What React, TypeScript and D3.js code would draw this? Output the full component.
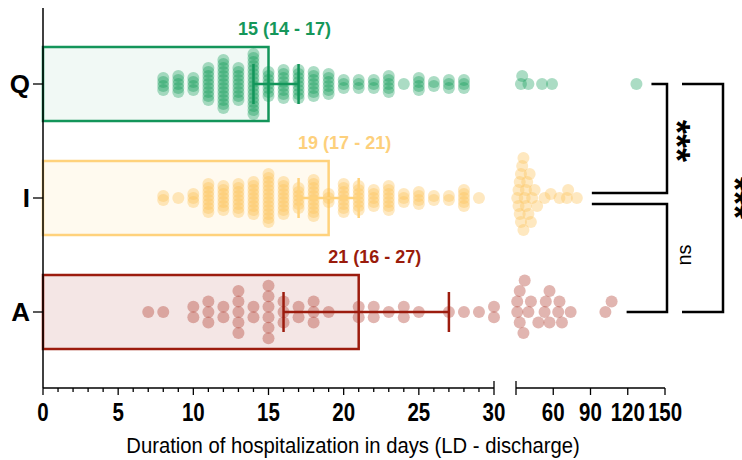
import * as d3 from "d3";

// categories top -> bottom
const categories = ["Q", "I", "A"];

// stays of 7..30 days, drawn as counts per whole day
const days = [7, 8, 9, 10, 11, 12, 13, 14, 15, 16, 17, 18, 19, 20, 21, 22, 23, 24, 25, 26, 27, 28, 29, 30];
const qCounts = [0, 4, 5, 4, 9, 13, 9, 16, 7, 8, 8, 7, 6, 3, 3, 3, 5, 1, 4, 2, 3, 3, 0, 0];
const iCounts = [0, 2, 1, 3, 8, 7, 8, 9, 13, 9, 6, 10, 3, 8, 7, 5, 7, 3, 4, 2, 2, 5, 1, 0];
const aCounts = [1, 1, 0, 2, 3, 2, 5, 2, 6, 3, 2, 3, 1, 0, 2, 2, 1, 2, 1, 0, 1, 1, 1, 2];

// stays longer than 30 days
const qLong = [34, 35, 40, 51, 59, 127];
const iLong = [31, 32, 32, 33, 33, 34, 34, 35, 36, 36, 37, 38, 38, 39, 40, 41, 42, 43, 45, 47, 53, 58, 65, 71, 72, 79];
const aLong = [31, 31, 33, 33, 36, 37, 40, 42, 48, 53, 54, 57, 57, 64, 65, 67, 74, 102, 107];

// median and its interval
const medians = [15, 19, 21];
const lows = [14, 17, 16];
const highs = [17, 21, 27];

const ticksLow = [0, 5, 10, 15, 20, 25, 30];
const ticksHigh = [60, 90, 120, 150];

const comparisons: [string, string, string][] = [
  ["Q", "I", "***"],
  ["I", "A", "ns"],
  ["Q", "A", "***"],
];

const strokes = ["#13955a", "#ffd27c", "#9c1c0e"];
const dotFills = ["#0f9a57", "#fcc35a", "#a82a1c"];
const dotOpacity = [0.35, 0.38, 0.35];
const labelColors = ["#15975a", "#fdd07c", "#9a1b0b"];
const barOpacity = [0.06, 0.12, 0.11];

const x1 = d3.scaleLinear().domain([0, 30]).range([43, 494]);
const x2 = d3.scaleLinear().domain([30, 150]).range([516, 665]);
const y = d3.scalePoint().domain(categories).range([84, 312]);
const barH = 74;
const r = 6;
const axisY = 388;

type Pt = { x: number; y: number };

function layout(counts: number[], long: number[], cy: number, step: number, minDist: number): Pt[] {
  const pts: Pt[] = [];
  counts.forEach((n, i) => {
    for (let k = 0; k < n; k++) {
      pts.push({ x: x1(days[i]), y: cy + (k - (n - 1) / 2) * step });
    }
  });
  const placed: Pt[] = [];
  [...long].sort((a, b) => a - b).forEach((v) => {
    const px = x2(v);
    for (let j = 0; j < 100; j++) {
      const k = j === 0 ? 0 : j % 2 ? -(j + 1) / 2 : j / 2;
      const py = cy + k * step;
      if (placed.every((p) => Math.hypot(p.x - px, p.y - py) >= minDist)) {
        placed.push({ x: px, y: py });
        break;
      }
    }
  });
  return pts.concat(placed);
}

const groups = [
  layout(qCounts, qLong, y("Q")!, 4, 6),
  layout(iCounts, iLong, y("I")!, 4, 7),
  layout(aCounts, aLong, y("A")!, 10.5, 10.5),
];
const longs = [qLong, iLong, aLong];

const sans = "'Liberation Sans', Arial, Helvetica, sans-serif";

export default function App() {
  const armStart = (c: string) => {
    const i = categories.indexOf(c);
    return x2(d3.max(longs[i])!) + 15;
  };
  const innerX = 667;
  const outerX = 723;

  return (
    <div style={{ position: "absolute", left: 0, top: 0 }}>
      <svg width={742} height={460} style={{ display: "block", background: "#fff" }}>
        {categories.map((c, i) => {
          const cy = y(c)!;
          return (
            <g key={c}>
              <rect
                x={x1(0)}
                y={cy - barH / 2}
                width={x1(medians[i]) - x1(0)}
                height={barH}
                fill={strokes[i]}
                fillOpacity={barOpacity[i]}
              />
              <rect
                x={x1(0)}
                y={cy - barH / 2}
                width={x1(medians[i]) - x1(0)}
                height={barH}
                fill="none"
                stroke={strokes[i]}
                strokeWidth={2.5}
              />
              {groups[i].map((p, k) => (
                <circle key={k} cx={p.x} cy={p.y} r={r} fill={dotFills[i]} fillOpacity={dotOpacity[i]} />
              ))}
              <g stroke={strokes[i]} strokeWidth={2.5}>
                <line x1={x1(lows[i])} x2={x1(highs[i])} y1={cy} y2={cy} />
                <line x1={x1(lows[i])} x2={x1(lows[i])} y1={cy - 20} y2={cy + 20} />
                <line x1={x1(highs[i])} x2={x1(highs[i])} y1={cy - 20} y2={cy + 20} />
              </g>
              <text
                x={x1(medians[i]) + 16}
                y={cy - barH / 2 - 12}
                textAnchor="middle"
                fontFamily={sans}
                fontWeight="bold"
                fontSize={18}
                fill={labelColors[i]}
              >
                {`${medians[i]} (${lows[i]} - ${highs[i]})`}
              </text>
            </g>
          );
        })}

        {/* y axis */}
        <line x1={43} x2={43} y1={8} y2={axisY} stroke="#000" strokeWidth={1.5} />
        {categories.map((c) => (
          <g key={c}>
            <line x1={33} x2={43} y1={y(c)} y2={y(c)} stroke="#000" strokeWidth={1.3} />
            <text
              x={30}
              y={y(c)! + 9}
              textAnchor="end"
              fontFamily={sans}
              fontWeight="bold"
              fontSize={26}
            >
              {c}
            </text>
          </g>
        ))}

        {/* x axis, broken */}
        <g stroke="#000" strokeWidth={1.3}>
          <line x1={x1(0)} x2={x1(30)} y1={axisY} y2={axisY} />
          <line x1={x2(30)} x2={x2(150)} y1={axisY} y2={axisY} />
          {d3.range(1, 30).map((d) => (
            <line key={d} x1={x1(d)} x2={x1(d)} y1={axisY} y2={axisY + (d % 5 === 0 ? 7 : 4)} />
          ))}
          <line x1={x1(0)} x2={x1(0)} y1={axisY} y2={axisY + 7} />
          <line x1={x1(30)} x2={x1(30)} y1={axisY - 7} y2={axisY + 7} />
          <line x1={x2(30)} x2={x2(30)} y1={axisY - 7} y2={axisY + 7} />
          {ticksHigh.map((d) => (
            <line key={d} x1={x2(d)} x2={x2(d)} y1={axisY} y2={axisY + 7} />
          ))}
        </g>
        <g fontFamily={sans} fontWeight="bold" fontSize={25} textAnchor="middle">
          {ticksLow.map((d) => (
            <text key={d} transform={`translate(${x1(d)},${axisY + 33}) scale(0.82,1)`}>
              {d}
            </text>
          ))}
          {ticksHigh.map((d) => (
            <text key={d} transform={`translate(${x2(d)},${axisY + 33}) scale(0.82,1)`}>
              {d}
            </text>
          ))}
        </g>
        <text
          transform="translate(353,453) scale(0.9,1)"
          textAnchor="middle"
          fontFamily={sans}
          fontSize={22.5}
        >
          Duration of hospitalization in days (LD - discharge)
        </text>

        {/* significance brackets */}
        <g stroke="#000" strokeWidth={2.5} fill="none">
          {comparisons.map(([a, b], i) => {
            const ya = y(a)!;
            const yb = y(b)!;
            if (i < 2) {
              const ta = a === "I" ? ya + 6 : ya;
              const tb = b === "I" ? yb - 5 : yb;
              return <path key={i} d={`M${armStart(a)},${ta}H${innerX}V${tb}H${armStart(b)}`} />;
            }
            return <path key={i} d={`M${innerX + 15},${ya}H${outerX}V${yb}H${innerX + 15}`} />;
          })}
        </g>
        {comparisons.map(([a, b, lab], i) => {
          const ya = y(a)!;
          const yb = y(b)!;
          const cx = i < 2 ? innerX + 19 : outerX + 21;
          const cyy = (ya + yb) / 2;
          const stars = lab !== "ns";
          return (
            <text
              key={i}
              transform={`translate(${cx},${cyy}) rotate(${stars ? 90 : -90})`}
              textAnchor="middle"
              dy={stars ? "0.6em" : "0.26em"}
              fontFamily={sans}
              fontWeight={stars ? "bold" : "normal"}
              fontSize={stars ? 36 : 20}
            >
              {lab}
            </text>
          );
        })}
      </svg>
    </div>
  );
}
